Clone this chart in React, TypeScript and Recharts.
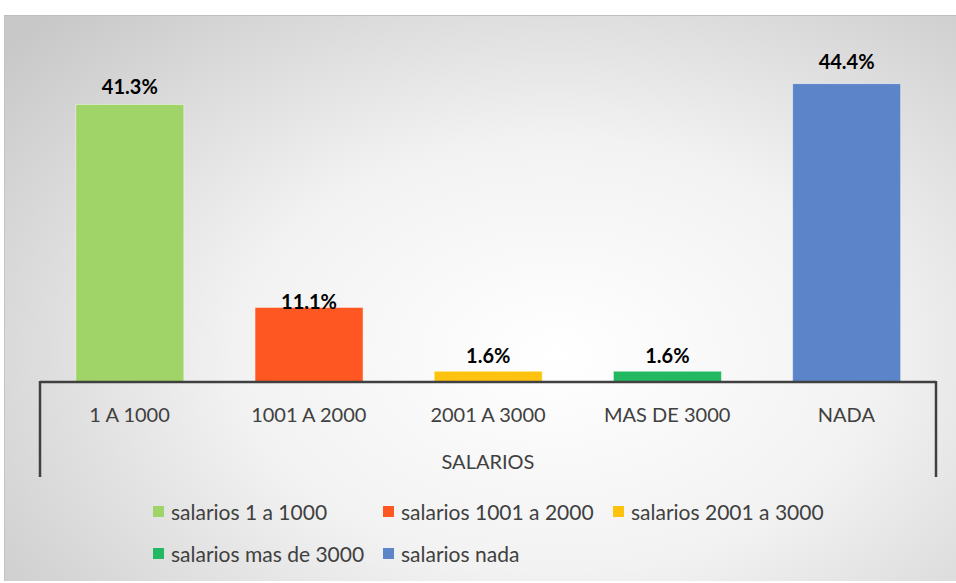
import { BarChart, Bar, XAxis, YAxis, Legend, LabelList, usePlotArea } from "recharts";

// categorias y valores (%)
const categories = ["1 A 1000", "1001 A 2000", "2001 A 3000", "MAS DE 3000", "NADA"];
const seriesNames = [
  "salarios 1 a 1000",
  "salarios 1001 a 2000",
  "salarios 2001 a 3000",
  "salarios mas de 3000",
  "salarios nada",
];
const values = [41.3, 11.1, 1.6, 1.6, 44.4];
const colors = ["#a0d468", "#ff5722", "#ffc30f", "#22b962", "#5b84c9"];
const labelOffsets = [10, -2, 8, 8, 15];

// one row per category, only its own series filled
const data = categories.map((name, i) => {
  const row: any = { name };
  seriesNames.forEach((s, j) => {
    row[s] = i === j ? values[i] : null;
  });
  return row;
});

const TEXT = "#404040";
const FONT = "Lato, 'Open Sans', sans-serif";

// Excel style outer ticks of the multi-level category axis
function AxisBrackets() {
  const area = usePlotArea();
  if (!area) return null;
  const base = area.y + area.height;
  return (
    <g>
      <line x1={area.x} x2={area.x} y1={base - 1} y2={base + 95} stroke={TEXT} strokeWidth={2.5} />
      <line x1={area.x + area.width} x2={area.x + area.width} y1={base - 1} y2={base + 95} stroke={TEXT} strokeWidth={2.5} />
    </g>
  );
}

function LegendContent() {
  return (
    <div style={{ display: "grid", gridTemplateColumns: "230px 230px 230px", rowGap: 17, fontFamily: FONT, fontSize: 21, color: TEXT }}>
      {seriesNames.map((s, i) => (
        <div key={s} style={{ display: "flex", alignItems: "center", whiteSpace: "nowrap" }}>
          <span style={{ width: 11, height: 11, background: colors[i], marginRight: 7, display: "inline-block" }} />
          {s}
        </div>
      ))}
    </div>
  );
}

export default function App() {
  return (
    <div
      style={{
        position: "absolute",
        left: 4,
        top: 15,
        width: 951,
        height: 565,
        borderTop: "1px solid #bdbdbd",
        borderLeft: "1px solid #c4c4c4",
        background: "radial-gradient(ellipse 75% 85% at 58% 60%, #ffffff 0%, #f2f2f2 45%, #c8c8c8 100%)",
      }}
    >
      <BarChart
        width={951}
        height={565}
        data={data}
        margin={{ top: 30, right: 20, left: 35, bottom: 0 }}
        barCategoryGap="20%"
      >
        <YAxis hide domain={[0, 50]} />
        <XAxis
          dataKey="name"
          height={132}
          axisLine={{ stroke: TEXT, strokeWidth: 2.5 }}
          tickLine={false}
          tick={{ fill: TEXT, fontSize: 20, fontFamily: FONT }}
          dy={18}
          interval={0}
          label={{ value: "SALARIOS", position: "insideTop", dy: 68, fill: TEXT, fontSize: 20, fontFamily: FONT }}
        />
        {seriesNames.map((s, i) => (
          <Bar
            key={s}
            dataKey={s}
            stackId="a"
            fill={colors[i]}
            stroke="rgba(255,255,255,0.45)"
            strokeWidth={1}
            isAnimationActive={false}
          >
            <LabelList
              dataKey={s}
              position="top"
              offset={labelOffsets[i]}
              formatter={(v: any) => (v == null ? "" : `${Number(v).toFixed(1)}%`)}
              style={{ fill: "#000", fontSize: 20, fontWeight: 700, fontFamily: FONT }}
            />
          </Bar>
        ))}
        <Legend
          content={<LegendContent />}
          wrapperStyle={{ position: "absolute", left: 148, top: 483, width: 700 }}
        />
        <AxisBrackets />
      </BarChart>
    </div>
  );
}
